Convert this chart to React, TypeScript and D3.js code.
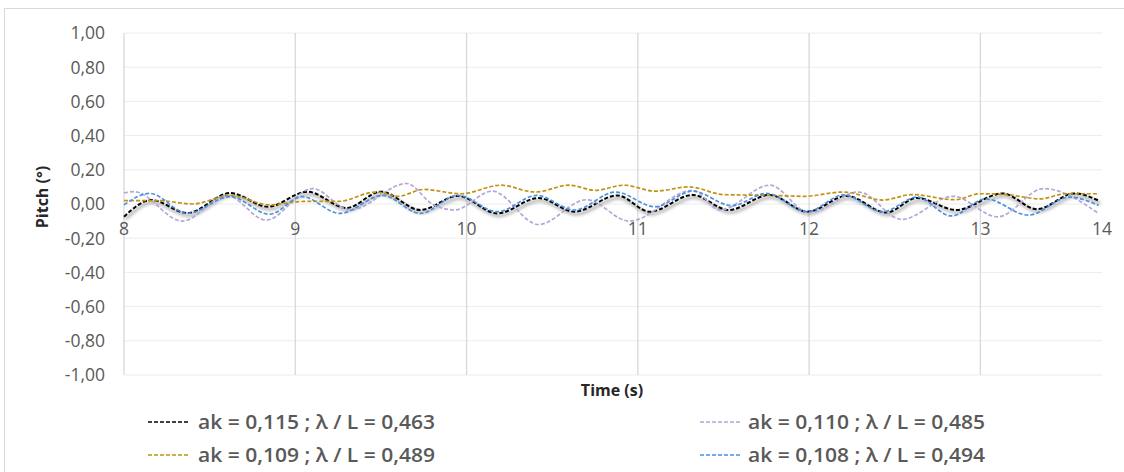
import React from "react";
import * as d3 from "d3";

const W = 1124;
const H = 472;

const yTicks = [-1, -0.8, -0.6, -0.4, -0.2, 0, 0.2, 0.4, 0.6, 0.8, 1];
const xTicks = [8, 9, 10, 11, 12, 13];
const xEndLabel = "14";
const xMax = 13.71;

const seriesNames = [
  "ak = 0,115 ; λ / L = 0,463",
  "ak = 0,110 ; λ / L = 0,485",
  "ak = 0,109 ; λ / L = 0,489",
  "ak = 0,108 ; λ / L = 0,494",
];
const seriesColors = ["#000000", "#b4a7d6", "#c09315", "#4a90e2"];

const timeBlack = [8.0, 8.16, 8.37, 8.62, 8.84, 9.07, 9.3, 9.5, 9.73, 9.95, 10.18, 10.42, 10.63, 10.88, 11.07, 11.32, 11.53, 11.77, 11.99, 12.22, 12.45, 12.63, 12.86, 13.13, 13.33, 13.55, 13.69];
const pitchBlack = [-0.074, 0.023, -0.053, 0.064, -0.016, 0.072, -0.023, 0.072, -0.035, 0.047, -0.055, 0.035, -0.045, 0.05, -0.045, 0.053, -0.035, 0.053, -0.045, 0.047, -0.05, 0.035, -0.035, 0.062, -0.03, 0.062, 0.02];

const timePurple = [8.0, 8.06, 8.34, 8.6, 8.83, 9.1, 9.32, 9.65, 9.8, 9.93, 10.15, 10.42, 10.7, 10.95, 11.32, 11.48, 11.77, 12.0, 12.29, 12.54, 12.84, 13.1, 13.37, 13.69];
const pitchPurple = [0.065, 0.072, -0.1, 0.05, -0.094, 0.09, -0.035, 0.12, 0.0, -0.035, 0.075, -0.12, 0.025, -0.1, 0.08, -0.035, 0.11, -0.05, 0.07, -0.09, 0.045, -0.075, 0.09, -0.055];

const timeGold = [8.0, 8.2, 8.4, 8.62, 8.85, 9.05, 9.25, 9.47, 9.6, 9.75, 9.97, 10.2, 10.4, 10.6, 10.75, 10.92, 11.1, 11.3, 11.5, 11.8, 11.97, 12.2, 12.43, 12.6, 12.85, 13.0, 13.15, 13.35, 13.5, 13.69];
const pitchGold = [0.02, 0.02, 0.0, 0.05, -0.005, 0.015, 0.015, 0.07, 0.045, 0.085, 0.06, 0.11, 0.07, 0.11, 0.08, 0.11, 0.075, 0.1, 0.055, 0.05, 0.045, 0.07, 0.023, 0.055, 0.025, 0.06, 0.055, 0.03, 0.06, 0.06];

const timeBlue = [8.0, 8.15, 8.37, 8.62, 8.85, 9.04, 9.26, 9.51, 9.73, 9.95, 10.18, 10.41, 10.63, 10.87, 11.1, 11.32, 11.55, 11.75, 11.99, 12.2, 12.43, 12.63, 12.83, 13.03, 13.28, 13.52, 13.69];
const pitchBlue = [-0.005, 0.062, -0.055, 0.043, -0.06, 0.043, -0.055, 0.05, -0.055, 0.05, -0.045, 0.05, -0.035, 0.07, -0.016, 0.075, -0.01, 0.062, -0.045, 0.053, -0.045, 0.04, -0.07, 0.03, -0.065, 0.04, -0.008];

const seriesTimes = [timeBlack, timePurple, timeGold, timeBlue];
const seriesPitch = [pitchBlack, pitchPurple, pitchGold, pitchBlue];

const FONT = "'Open Sans', 'Noto Sans', sans-serif";

export default function App() {
  const left = 124, right = 1102, top = 33, bottom = 375;
  const x = d3.scaleLinear().domain([8, xMax]).range([left, right]);
  const y = d3.scaleLinear().domain([-1, 1]).range([bottom, top]);
  const fmt = (v: number) => d3.format(".2f")(v).replace("\u2212", "-").replace(".", ",");

  const line = d3
    .line<[number, number]>()
    .x((d) => x(d[0]))
    .y((d) => y(d[1]))
    .curve(d3.curveMonotoneX);

  const paths = seriesTimes.map((ts, i) =>
    line(ts.map((t, j) => [t, seriesPitch[i][j]] as [number, number])) || ""
  );

  const legendPos = [
    { lx: 148, tx: 198, y: 422 },
    { lx: 700, tx: 748, y: 422 },
    { lx: 148, tx: 198, y: 455 },
    { lx: 700, tx: 748, y: 455 },
  ];

  return (
    <div style={{ position: "absolute", left: 0, top: 0, width: W, height: H, background: "#fff" }}>
      <svg width={W} height={H} style={{ display: "block" }}>
        <defs>
          <filter id="shadow" x="-5%" y="-50%" width="110%" height="200%">
            <feGaussianBlur stdDeviation="1.6" />
          </filter>
        </defs>
        <rect x={0} y={0} width={W} height={H} fill="#fff" />
        <rect x={4.5} y={8.5} width={W + 10} height={H + 10} fill="none" stroke="#d9d9d9" strokeWidth={1} />

        {yTicks.map((t) => (
          <line key={"h" + t} x1={left} x2={right} y1={y(t)} y2={y(t)} stroke="#ececec" strokeWidth={1} />
        ))}
        {xTicks.slice(1).map((t) => (
          <line key={"v" + t} x1={x(t)} x2={x(t)} y1={top} y2={bottom} stroke="#d9d9d9" strokeWidth={1.3} />
        ))}
        <line x1={left} x2={left} y1={top} y2={bottom} stroke="#d9d9d9" strokeWidth={1.3} />

        {yTicks.map((t) => (
          <text key={"yl" + t} x={105} y={y(t)} dy="0.36em" textAnchor="end" fontFamily={FONT} fontSize={17.5} fill="#595959">
            {fmt(t)}
          </text>
        ))}

        {xTicks.map((t) => (
          <text key={"xl" + t} x={x(t)} y={235} textAnchor="middle" fontFamily={FONT} fontSize={17.5} fill="#595959">
            {t}
          </text>
        ))}
        <text x={right} y={235} textAnchor="middle" fontFamily={FONT} fontSize={17.5} fill="#595959">
          {xEndLabel}
        </text>

        <text x={612} y={390} dy="0.35em" textAnchor="middle" fontFamily={FONT} fontSize={16} fontWeight={700} fill="#262626">
          Time (s)
        </text>
        <text transform="translate(42,197) rotate(-90)" dy="0.35em" textAnchor="middle" fontFamily={FONT} fontSize={16} fontWeight={700} fill="#262626">
          Pitch (°)
        </text>

        <path d={paths[0]} fill="none" stroke="#808080" strokeOpacity={0.55} strokeWidth={3} transform="translate(1.5,2.5)" filter="url(#shadow)" />

        {paths.map((p, i) => (
          <path
            key={"s" + i}
            d={p}
            fill="none"
            stroke={seriesColors[i]}
            strokeWidth={i === 0 ? 2 : 1.7}
            strokeDasharray="4 2"
          />
        ))}

        {seriesNames.map((name, i) => (
          <g key={"lg" + i}>
            <line x1={legendPos[i].lx} x2={legendPos[i].lx + 42} y1={legendPos[i].y} y2={legendPos[i].y} stroke={seriesColors[i]} strokeWidth={1.5} strokeDasharray="4 2" />
            <text x={legendPos[i].tx} y={legendPos[i].y} dy="0.36em" fontFamily={FONT} fontSize={19} fontWeight={600} fill="#595959" textLength={237} lengthAdjust="spacingAndGlyphs">
              {name}
            </text>
          </g>
        ))}
      </svg>
    </div>
  );
}
